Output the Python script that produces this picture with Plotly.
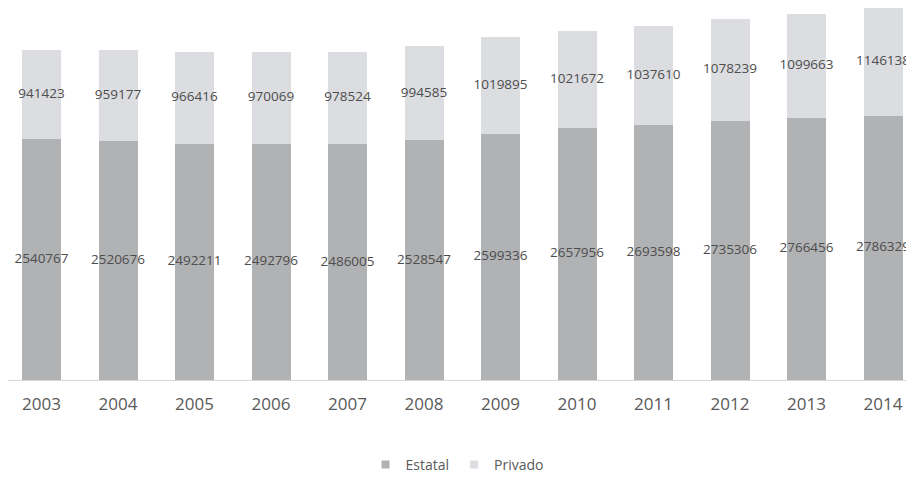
import plotly.graph_objects as go

years = ["2003", "2004", "2005", "2006", "2007", "2008",
         "2009", "2010", "2011", "2012", "2013", "2014"]
estatal = [2540767, 2520676, 2492211, 2492796, 2486005, 2528547,
           2599336, 2657956, 2693598, 2735306, 2766456, 2786329]
privado = [941423, 959177, 966416, 970069, 978524, 994585,
           1019895, 1021672, 1037610, 1078239, 1099663, 1146138]

FONT = "Open Sans"
COL_EST = "#b1b2b4"
COL_PRIV = "#dcdde0"
label_font = dict(family=FONT, size=13.5, color="#4d4d4d")

fig = go.Figure()

# ── stacked bars ──
fig.add_trace(go.Bar(x=years, y=estatal, name="Estatal",
                     marker=dict(color=COL_EST, line=dict(width=0)),
                     showlegend=False, hoverinfo="x+y"))
fig.add_trace(go.Bar(x=years, y=privado, name="Privado",
                     marker=dict(color=COL_PRIV, line=dict(width=0)),
                     showlegend=False, hoverinfo="x+y"))

# ── value labels centred in each segment (wider than the bars, so drawn as text) ──
est_mid = [e / 2 for e in estatal]
priv_mid = [e + p / 2 for e, p in zip(estatal, privado)]
fig.add_trace(go.Scatter(x=years, y=est_mid, mode="text",
                         text=[str(v) for v in estatal], textposition="middle center",
                         textfont=label_font, cliponaxis=False,
                         showlegend=False, hoverinfo="skip"))
fig.add_trace(go.Scatter(x=years, y=priv_mid, mode="text",
                         text=[str(v) for v in privado], textposition="middle center",
                         textfont=label_font, cliponaxis=False,
                         showlegend=False, hoverinfo="skip"))

# ── legend entries with small square swatches ──
for name, col in (("Estatal", COL_EST), ("Privado", COL_PRIV)):
    fig.add_trace(go.Scatter(x=[None], y=[None], mode="markers", name=name,
                             marker=dict(symbol="square", size=8, color=col)))

# the page adds an 8px body margin, so the figure is sized to what stays visible
fig.update_layout(
    barmode="stack",
    bargap=0.49,
    width=906, height=469,
    margin=dict(l=0, r=0, t=0, b=97, autoexpand=False),
    paper_bgcolor="white",
    plot_bgcolor="white",
    font=dict(family=FONT, color="#595959"),
    xaxis=dict(
        type="category",
        range=[-0.438, 11.405],
        automargin=False,
        showline=True, linecolor="#d9d9d9", linewidth=1,
        ticks="", showgrid=False,
        ticklabelstandoff=9,
        tickfont=dict(family=FONT, size=17, color="#595959"),
    ),
    yaxis=dict(
        range=[0, 3925000],
        automargin=False,
        visible=False, showgrid=False, zeroline=False,
    ),
    legend=dict(
        orientation="h",
        traceorder="normal",
        x=0.4956, xanchor="center",
        y=-0.2285, yanchor="middle",
        font=dict(family=FONT, size=14, color="#595959"),
        itemwidth=30,
    ),
    showlegend=True,
)

fig.write_html("out.html")
